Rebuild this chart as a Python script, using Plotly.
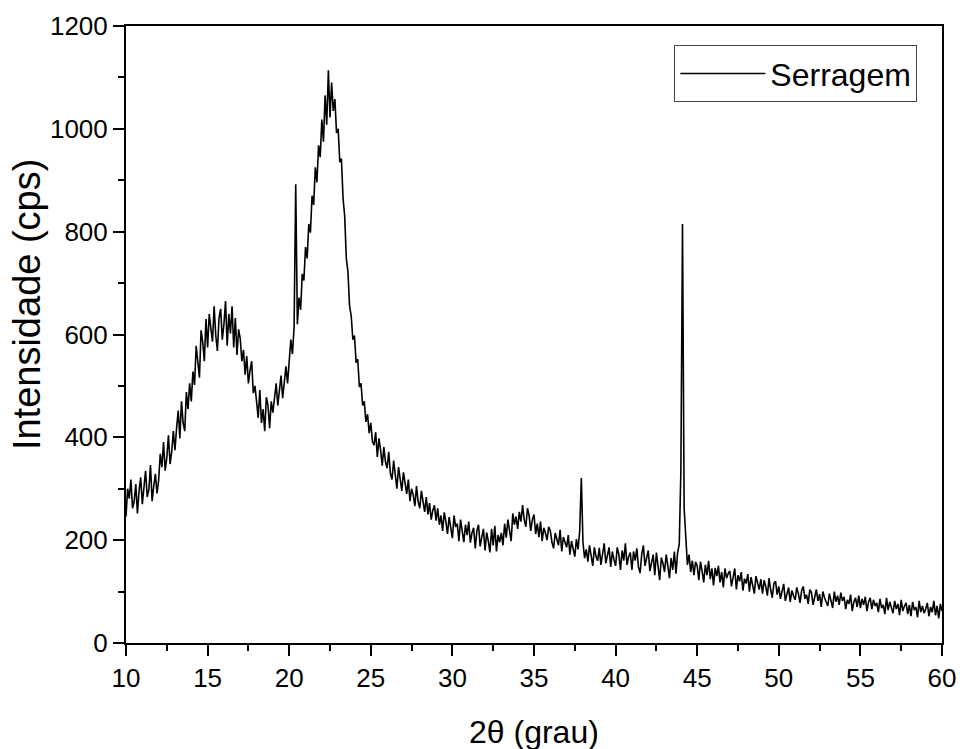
import numpy as np
import plotly.graph_objects as go

# 2-theta scan grid (degrees), 0.1 deg step from 10 to 60
two_theta = np.round(np.linspace(10.0, 60.0, 501), 1)

# Intensity (cps), one row per degree (10.0 ... 59.9), plus 60.0
intensity = [
    246, 300, 281, 318, 262, 275, 309, 252, 296, 322,   # 10
    270, 312, 335, 284, 298, 346, 276, 305, 329, 291,   # 11
    316, 368, 342, 391, 335, 360, 404, 348, 372, 412,   # 12
    375, 418, 452, 398, 470, 428, 412, 488, 455, 505,   # 13
    470, 528, 502, 578, 540, 516, 608, 585, 548, 630,   # 14
    575, 640, 612, 586, 655, 598, 568, 632, 650, 590,   # 15
    620, 665, 578, 640, 602, 655, 575, 632, 560, 610,   # 16
    592, 548, 570, 522, 558, 505, 530, 548, 486, 500,   # 17
    470, 438, 492, 428, 455, 412, 478, 462, 418, 470,   # 18
    448, 482, 505, 462, 498, 520, 476, 512, 538, 505,   # 19
    548, 590, 562, 615, 892, 620, 672, 648, 718, 705,   # 20
    770, 748, 815, 798, 870, 852, 925, 896, 968, 945,   # 21
    1018, 975, 1065, 1008, 1114, 1022, 1090, 1035, 1058, 992,  # 22
    1000, 935, 942, 865, 830, 748, 722, 655, 636, 590,  # 23
    598, 545, 552, 498, 505, 462, 470, 430, 445, 408,   # 24
    428, 392, 385, 410, 362, 398, 375, 345, 381, 352,   # 25
    340, 372, 330, 318, 355, 325, 300, 342, 318, 296,   # 26
    332, 305, 290, 318, 276, 300, 288, 266, 305, 275,   # 27
    262, 296, 270, 255, 284, 250, 272, 240, 258, 268,   # 28
    238, 262, 230, 248, 218, 254, 236, 212, 245, 225,   # 29
    204, 248, 226, 232, 198, 240, 215, 196, 230, 210,   # 30
    236, 195, 214, 224, 184, 218, 230, 188, 206, 222,   # 31
    180, 215, 198, 176, 222, 190, 228, 178, 210, 196,   # 32
    214, 190, 232, 205, 240, 218, 198, 252, 230, 246,   # 33
    222, 255, 236, 268, 240, 226, 262, 248, 218, 240,   # 34
    250, 212, 232, 206, 236, 198, 224, 214, 200, 226,   # 35
    218, 196, 184, 214, 202, 190, 220, 178, 206, 196,   # 36
    186, 210, 172, 198, 180, 168, 202, 182, 218, 321,   # 37
    196, 165, 182, 158, 190, 172, 150, 186, 168, 160,   # 38
    185, 152, 176, 194, 155, 168, 186, 148, 178, 162,   # 39
    150, 186, 172, 142, 180, 160, 194, 152, 168, 176,   # 40
    142, 178, 160, 184, 148, 136, 172, 190, 150, 165,   # 41
    180, 140, 158, 172, 132, 176, 150, 122, 166, 155,   # 42
    138, 172, 150, 126, 165, 142, 178, 135, 176, 192,   # 43
    335, 815, 262, 210, 152, 172, 138, 160, 132, 158,   # 44
    150, 122, 158, 140, 118, 152, 132, 160, 124, 145,   # 45
    112, 146, 130, 150, 118, 138, 108, 145, 126, 135,   # 46
    140, 110, 128, 145, 104, 132, 120, 138, 102, 125,   # 47
    116, 134, 100, 128, 112, 96, 130, 118, 104, 124,    # 48
    96, 122, 110, 92, 126, 104, 88, 116, 120, 94,       # 49
    110, 86, 104, 115, 82, 98, 108, 80, 102, 92,        # 50
    84, 108, 96, 78, 102, 110, 86, 94, 76, 104,         # 51
    98, 74, 90, 104, 82, 95, 70, 100, 88, 78,           # 52
    72, 96, 84, 68, 100, 80, 92, 74, 98, 82,            # 53
    90, 66, 84, 76, 94, 62, 80, 88, 70, 92,             # 54
    68, 86, 74, 90, 62, 80, 88, 66, 84, 72,             # 55
    78, 60, 86, 68, 74, 56, 88, 64, 80, 70,             # 56
    58, 82, 66, 76, 54, 84, 62, 72, 78, 56,             # 57
    74, 52, 80, 64, 70, 50, 82, 60, 72, 58,             # 58
    66, 78, 52, 70, 60, 82, 54, 72, 48, 76,             # 59
    62,                                                 # 60
]

series_name = "Serragem"
x_title = "2θ (grau)"
y_title = "Intensidade (cps)"
x_ticks = [10, 15, 20, 25, 30, 35, 40, 45, 50, 55, 60]
y_ticks = [0, 200, 400, 600, 800, 1000, 1200]

FONT = "Liberation Sans, Arial, sans-serif"

fig = go.Figure()
fig.add_trace(go.Scatter(
    x=two_theta, y=intensity, mode="lines", name=series_name,
    line=dict(color="black", width=1.6),
))

axis_common = dict(
    showgrid=False, zeroline=False, automargin=False,
    showline=True, linecolor="black", linewidth=2, mirror=True,
    ticks="outside", ticklen=11, tickwidth=2, tickcolor="black",
    tickfont=dict(family=FONT, size=26, color="black"),
)

fig.update_layout(
    width=960, height=749,
    margin=dict(l=126, r=18, t=26, b=106),
    paper_bgcolor="white", plot_bgcolor="white",
    font=dict(family=FONT, color="black"),
    showlegend=True,
    legend=dict(
        x=0.672, y=0.969, xanchor="left", yanchor="top",
        bordercolor="#444", borderwidth=1, bgcolor="white",
        font=dict(family=FONT, size=32, color="black"),
        itemwidth=85,
    ),
    xaxis=dict(
        range=[10, 60], tickvals=x_ticks,
        minor=dict(dtick=2.5, ticks="outside", ticklen=6, tickwidth=2, tickcolor="black"),
        **axis_common,
    ),
    yaxis=dict(
        range=[0, 1200], tickvals=y_ticks,
        minor=dict(dtick=100, ticks="outside", ticklen=6, tickwidth=2, tickcolor="black"),
        **axis_common,
    ),
    annotations=[
        dict(
            text=y_title, textangle=-90, showarrow=False,
            xref="paper", yref="paper", x=-0.122, y=0.55,
            xanchor="center", yanchor="middle",
            font=dict(family=FONT, size=38, color="black"),
        ),
        dict(
            text=x_title, showarrow=False,
            xref="paper", yref="paper", x=0.5, y=-0.144,
            xanchor="center", yanchor="middle",
            font=dict(family=FONT, size=32, color="black"),
        ),
    ],
)

fig.write_html("out.html")
